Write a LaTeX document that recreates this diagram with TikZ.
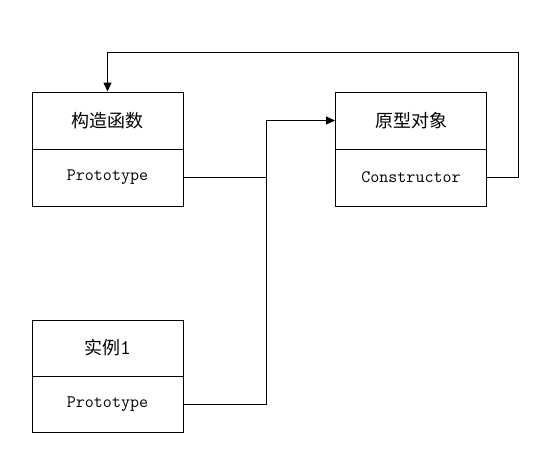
\documentclass[tikz,border=0pt]{standalone}
\usepackage{fontspec}
\newfontfamily\cjk{Noto Sans CJK SC}
\usetikzlibrary{arrows.meta}
\tikzset{
	head/.style={draw, line width=1pt, minimum width=151pt, minimum height=57pt, inner sep=0pt, font=\cjk\fontsize{18}{20}\selectfont},
	field/.style={draw, line width=1pt, minimum width=151pt, minimum height=57pt, inner sep=0pt, font=\ttfamily\fontsize{17.5}{20}\selectfont},
	link/.style={line width=1pt, -{Triangle[length=9pt,width=8pt]}}
}
\begin{document}
\begin{tikzpicture}[x=1pt, y=-1pt]
		\useasboundingbox (0,0) rectangle (542,474);

		\node[head] (ctorhead) at (107.5,120.5) {构造函数};
		\node[field] (ctorproto) at (107.5,177.5) {Prototype};

		\node[head] (protohead) at (411,120.5) {原型对象};
		\node[field] (protoctor) at (411,177.5) {Constructor};

		\node[head, minimum height=56pt] (insthead) at (107.5,348) {实例{\ttfamily\fontsize{21}{20}\selectfont 1}};
		\node[field, minimum height=56pt] (instproto) at (107.5,404) {Prototype};

		\coordinate (join) at (266,177.5);
		\coordinate (loop) at (518,52);

		\draw[link] (ctorproto.east) -- (join) |- (protohead.west);
		\draw[line width=1pt] (instproto.east) -| (join);
		\draw[link] (protoctor.east) -| (loop) -| (ctorhead.north);
	\end{tikzpicture}
\end{document}
